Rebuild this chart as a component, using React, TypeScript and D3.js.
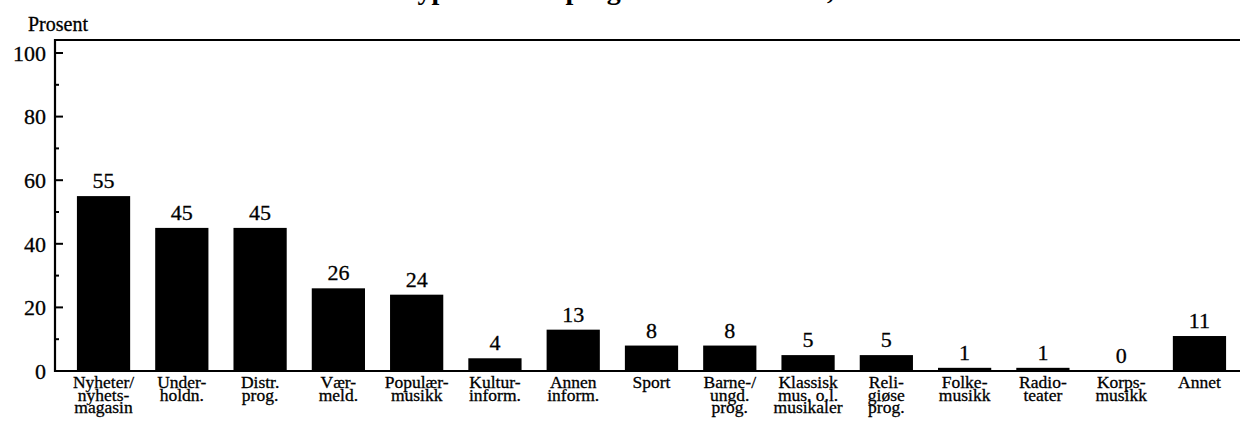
import React from "react";
import * as d3 from "d3";

const categories: string[][] = [
  ["Nyheter/", "nyhets-", "magasin"],
  ["Under-", "holdn."],
  ["Distr.", "prog."],
  ["Vær-", "meld."],
  ["Populær-", "musikk"],
  ["Kultur-", "inform."],
  ["Annen", "inform."],
  ["Sport"],
  ["Barne-/", "ungd.", "prog."],
  ["Klassisk", "mus. o.l.", "musikaler"],
  ["Reli-", "giøse", "prog."],
  ["Folke-", "musikk"],
  ["Radio-", "teater"],
  ["Korps-", "musikk"],
  ["Annet"],
];
const values: number[] = [55, 45, 45, 26, 24, 4, 13, 8, 8, 5, 5, 1, 1, 0, 11];
const yTicks: number[] = [0, 10, 20, 30, 40, 50, 60, 70, 80, 90, 100];
const yLabels: number[] = [0, 20, 40, 60, 80, 100];
const yTitle = "Prosent";
const title = "Type av radioprogram som ble hørt, i alt";

const W = 1240;
const H = 435;
const left = 55;
const top = 40;
const bottom = 371;
const FONT = "'Liberation Serif', 'Times New Roman', serif";

export default function App() {
  const ids = categories.map((_, i) => String(i));
  const x = d3
    .scaleBand<string>()
    .domain(ids)
    .range([left, 1248])
    .paddingInner(0.32)
    .paddingOuter(0.28);
  const y = d3.scaleLinear().domain([0, 100]).range([bottom, 53]);
  const cx = (i: number) => (x(String(i)) as number) + x.bandwidth() / 2;

  return (
    <svg
      width={W}
      height={H}
      style={{ position: "absolute", left: 0, top: 0, background: "#fff" }}
      fontFamily={FONT}
    >
      <rect x={0} y={0} width={W} height={H} fill="#fff" />
      <text x={401} y={-1} fontSize={28} fontWeight="bold" fill="#000">
        {title}
      </text>
      <text x={28} y={31} fontSize={20} fill="#000" stroke="#000" strokeWidth={0.3}>
        {yTitle}
      </text>
      {/* frame */}
      <line x1={left} x2={W} y1={top} y2={top} stroke="#000" strokeWidth={2.2} />
      <line x1={left} x2={left} y1={top - 1} y2={bottom + 1} stroke="#000" strokeWidth={2.2} />
      {/* bars */}
      {values.map((v, i) => (
        <rect
          key={"b" + i}
          x={x(String(i))}
          y={y(v)}
          width={x.bandwidth()}
          height={bottom - y(v)}
          fill="#000"
        />
      ))}
      <line x1={left} x2={W} y1={bottom} y2={bottom} stroke="#000" strokeWidth={2.2} />
      {/* ticks */}
      {yTicks.map((t) => (
        <line
          key={"t" + t}
          x1={left}
          x2={left + (t % 20 === 0 ? 8 : 4)}
          y1={y(t)}
          y2={y(t)}
          stroke="#000"
          strokeWidth={2}
        />
      ))}
      {yLabels.map((t) => (
        <text
          key={"l" + t}
          x={46}
          y={y(t)}
          dy="0.35em"
          textAnchor="end"
          fontSize={22}
          fill="#000"
          stroke="#000"
          strokeWidth={0.3}
        >
          {t}
        </text>
      ))}
      {/* value labels */}
      {values.map((v, i) => (
        <text
          key={"v" + i}
          x={cx(i)}
          y={y(v) - 8}
          textAnchor="middle"
          fontSize={22}
          fill="#000"
          stroke="#000"
          strokeWidth={0.3}
        >
          {v}
        </text>
      ))}
      {/* category labels */}
      {categories.map((lines, i) => (
        <text
          key={"c" + i}
          x={cx(i)}
          y={388}
          textAnchor="middle"
          fontSize={17.5}
          fill="#000"
          stroke="#000"
          strokeWidth={0.3}
        >
          {lines.map((ln, j) => (
            <tspan key={j} x={cx(i)} y={388 + j * 12.5}>
              {ln}
            </tspan>
          ))}
        </text>
      ))}
    </svg>
  );
}
